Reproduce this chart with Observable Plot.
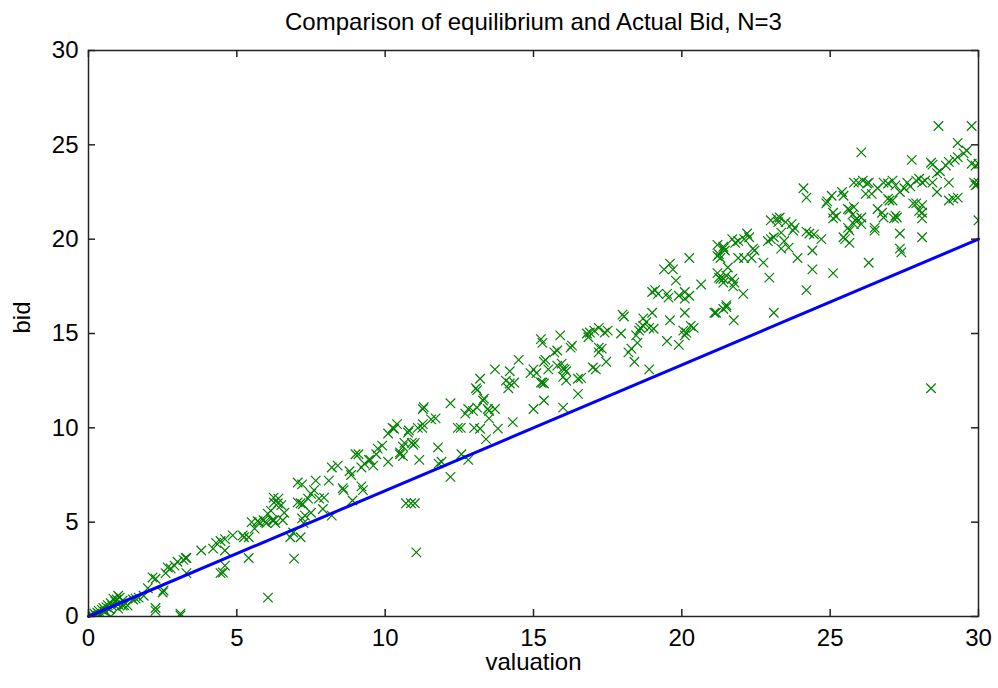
<!DOCTYPE html>
<html>
<head>
<meta charset="utf-8">
<script src="https://cdn.jsdelivr.net/npm/d3@7"></script>
<script src="https://cdn.jsdelivr.net/npm/@observablehq/plot@0.6"></script>
<style>
  html, body { margin: 0; padding: 0; background: #fff; }
  #chart svg { display: block; }
</style>
</head>
<body>
<div id="chart"></div>
<script>
const titleText = "Comparison of equilibrium and Actual Bid, N=3";
const xLabel = "valuation";
const yLabel = "bid";
const xTicks = [0, 5, 10, 15, 20, 25, 30];
const yTicks = [0, 5, 10, 15, 20, 25, 30];

// equilibrium bid line (valuation, bid)
const eqValuation = [0, 30];
const eqBid = [0, 20];

// actual bids: [valuation, bid]
const bidsLow = [[0.05,0.05],[0.1,0.1],[0.15,0.0],[0.2,0.15],[0.25,0.05],[0.3,0.2],[0.35,0.3],[0.4,0.1],[0.45,0.35],[0.5,0.45],[0.55,0.25],[0.6,0.5],[0.65,0.6],[0.7,0.4],[0.75,0.7],[0.8,0.55],[0.9,0.8],[0.95,0.9],[1.0,0.65],[1.05,1.0],[1.15,0.85],[1.2,0.6],[0.3,0.0],[0.75,0.0],[1.0,1.1],[1.32,0.58],[1.15,0.58],[1.0,0.42],[0.84,0.95],[1.5,0.9],[1.59,0.95],[1.69,1.0],[1.86,1.1],[2.0,1.5],[2.53,1.38],[2.5,1.27],[2.26,0.45],[2.26,0.3],[3.1,0.05],[3.1,0.15],[2.16,2.07],[2.26,2.0],[2.6,2.3],[2.67,2.6],[2.77,2.55],[2.9,2.7],[3.0,2.9],[3.2,3.0],[3.3,3.1],[3.28,3.1],[3.3,2.3],[3.8,3.5],[4.2,3.6],[4.3,3.9],[4.45,4.0],[4.6,4.1],[4.6,3.5],[4.6,2.7],[4.45,2.3],[4.53,2.33],[5.2,4.3],[5.4,4.2],[5.24,4.2],[4.86,4.3],[5.4,3.1],[5.5,5.0],[5.6,4.66],[5.7,5.05],[5.75,5.0],[5.9,5.1],[5.95,5.0],[6.0,4.95],[6.04,5.45],[6.2,5.1],[6.25,5.1],[6.3,4.95],[6.24,6.3],[6.38,6.0],[6.05,1.0],[6.15,5.6],[6.25,6.04],[6.4,6.25]];

const bidsMid = [[6.5,5.9],[6.6,5.5],[6.55,5.1],[6.9,4.45],[6.8,4.2],[7.15,4.2],[7.25,4.95],[6.93,3.07],[7.05,7.1],[7.2,7.0],[7.05,6.05],[7.15,6.0],[7.22,5.95],[7.4,6.25],[7.5,5.5],[7.3,5.35],[7.2,5.2],[7.5,6.5],[7.6,6.7],[7.66,7.2],[7.77,6.25],[7.94,6.3],[7.9,5.7],[8.1,7.2],[8.2,7.9],[8.4,8.0],[8.2,5.35],[8.57,6.8],[8.6,6.7],[8.8,7.7],[8.85,7.5],[8.9,6.15],[9.0,8.6],[9.1,8.6],[9.2,7.9],[9.3,8.1],[9.45,8.3],[9.5,8.3],[9.6,8.0],[9.7,8.6],[9.2,6.9],[9.25,6.7],[9.75,8.9],[9.9,9.06],[10.1,9.7],[10.1,8.2],[10.25,10.0],[10.3,9.95],[10.4,10.2],[10.5,8.7],[10.5,8.6],[10.6,9.0],[10.6,8.5],[10.65,9.2],[10.77,9.75],[10.8,9.86],[10.9,9.2],[10.95,9.1],[11.0,9.2],[10.7,6.0],[10.87,6.0],[11.0,6.0],[11.05,3.4],[11.1,10.0],[11.25,10.0],[11.27,10.2],[11.27,11.0],[11.3,11.1],[11.15,8.3],[11.55,10.45],[11.7,10.5],[11.78,8.96],[11.8,8.1],[11.9,8.2],[12.2,11.3],[12.2,7.4],[12.45,10.0],[12.55,10.0],[12.57,8.6],[12.7,10.75],[12.8,11.0],[12.8,8.3],[12.96,10.9],[13.0,10.0]];

const bidsHighMid = [[13.06,12.1],[13.1,12.0],[13.1,11.07],[13.2,12.6],[13.2,9.95],[13.3,11.45],[13.33,11.55],[13.4,9.4],[13.46,11.0],[13.5,10.9],[13.5,10.5],[13.7,11.0],[13.7,13.1],[13.8,9.96],[14.07,12.5],[14.15,12.1],[14.2,12.35],[14.2,13.0],[14.3,10.3],[14.35,12.4],[14.5,13.6],[14.9,12.9],[15.0,13.1],[15.0,11.0],[15.1,12.9],[15.25,12.4],[15.25,14.7],[15.3,14.5],[15.3,12.4],[15.35,13.5],[15.35,12.35],[15.35,11.45],[15.4,13.6],[15.5,13.1],[15.7,14.0],[15.8,14.1],[15.8,13.3],[15.9,14.9],[15.95,13.4],[16.0,13.15],[16.0,12.7],[16.0,11.07],[16.05,13.1],[16.1,13.0],[16.1,12.5],[16.25,14.25],[16.3,14.36],[16.5,12.6],[16.5,11.8],[16.6,12.65],[16.8,15.0],[16.85,14.8],[16.9,15.05],[17.0,13.2],[17.05,15.15],[17.1,13.1],[17.2,15.3],[17.2,14.25],[17.2,14.0],[17.3,14.2],[17.4,15.05],[17.45,13.5],[17.5,15.15],[17.95,15.0],[18.0,16.0],[18.05,15.9],[18.2,14.0],[18.3,14.2],[18.4,13.5],[18.46,14.9],[18.5,14.5],[18.56,15.15],[18.6,15.3],[18.7,15.4],[18.7,15.8],[18.8,15.6],[18.9,15.3],[18.9,13.1],[19.0,17.2],[19.0,16.1],[19.05,15.25],[19.1,17.3],[19.2,17.1],[19.4,18.4],[19.5,17.1],[19.5,14.6],[19.55,16.9],[19.6,18.7],[19.6,15.7],[19.7,18.4],[19.8,17.8],[19.9,17.0],[19.9,14.4]];

const bidsHigh = [[20.05,15.15],[20.1,17.2],[20.1,16.85],[20.1,16.1],[20.1,14.9],[20.15,15.05],[20.25,19.0],[20.25,17.0],[20.3,15.4],[20.4,15.3],[20.65,17.6],[21.15,16.1],[21.1,16.1],[21.2,19.7],[21.2,19.1],[21.2,18.2],[21.25,19.2],[21.25,17.96],[21.3,19.0],[21.3,17.9],[21.4,19.5],[21.4,19.6],[21.45,19.4],[21.4,17.9],[21.4,17.7],[21.4,16.3],[21.5,16.4],[21.5,16.5],[21.55,18.5],[21.5,18.07],[21.7,20.0],[21.7,17.9],[21.73,17.5],[21.75,15.7],[21.77,17.7],[21.8,19.8],[21.9,19.9],[21.9,19.0],[22.07,17.1],[22.1,20.0],[22.1,19.0],[22.2,20.3],[22.27,20.1],[22.35,19.0],[22.4,19.5],[22.45,19.4],[22.75,18.76],[22.9,19.9],[22.95,17.96],[23.0,21.0],[23.0,20.0],[23.1,20.1],[23.1,16.1],[23.2,21.1],[23.25,20.9],[23.3,21.15],[23.35,20.35],[23.35,19.5],[23.45,19.9],[23.5,20.9],[23.6,19.55],[23.7,20.8],[23.75,20.45],[23.8,20.6],[23.9,19.0],[24.1,22.7],[24.2,22.2],[24.2,20.4],[24.2,17.3],[24.3,20.3],[24.4,19.4],[24.4,18.4],[24.45,20.25],[24.7,20.0],[24.87,21.9],[24.9,22.0],[25.05,22.3],[25.1,21.4],[25.1,21.1],[25.1,18.2],[25.2,21.2],[25.4,22.5],[25.45,22.3],[25.45,20.1],[25.5,20.0],[25.6,21.6],[25.6,20.6],[25.65,20.45],[25.65,21.55],[25.65,19.8],[25.75,21.3],[25.8,21.7],[25.8,20.8],[25.8,23.0],[25.85,21.0],[25.9,21.1],[25.95,23.0],[26.05,24.6],[26.05,21.15],[26.05,20.8],[26.1,23.1],[26.2,22.4],[26.25,22.95],[26.3,23.0],[26.3,18.75],[26.4,22.4],[26.5,20.6],[26.5,20.45],[26.6,22.7],[26.6,21.6],[26.75,21.4],[26.8,23.0],[26.8,21.15],[26.95,22.95],[26.95,22.15],[27.0,22.05],[27.1,23.1],[27.1,22.05],[27.15,21.1],[27.2,22.85],[27.2,21.25],[27.25,21.15],[27.35,22.5],[27.35,20.3],[27.35,19.5],[27.4,19.3],[27.5,22.7],[27.6,23.0],[27.7,22.8],[27.75,24.2],[27.8,21.9],[27.9,23.1],[27.9,21.9],[28.0,23.2],[28.0,21.5],[28.1,23.0],[28.1,21.8],[28.1,21.4],[28.1,21.1],[28.1,20.1],[28.2,23.1],[28.4,24.05],[28.4,12.1],[28.45,23.95],[28.45,23.0],[28.6,23.5],[28.6,22.5],[28.65,26.0],[28.7,23.6],[28.9,23.9],[29.0,24.1],[29.0,23.0],[29.0,22.05],[29.15,22.15],[29.2,24.2],[29.3,24.35],[29.3,25.1],[29.3,22.2],[29.5,24.55],[29.6,24.7],[29.77,26.0],[29.77,24.0],[29.85,23.0],[29.9,23.9],[29.9,22.85],[29.95,22.9],[30.0,24.0],[30.0,23.0],[30.0,21.0]];

const bids = [...bidsLow, ...bidsMid, ...bidsHighMid, ...bidsHigh]
  .map(([v, b]) => ({valuation: v, bid: b}));
const eq = eqValuation.map((v, i) => ({valuation: v, bid: eqBid[i]}));

const W = 998, H = 688;
const mL = 88, mR = 20, mT = 50, mB = 72;
const plotW = W - mL - mR, plotH = H - mT - mB;
const tickLen = 7;
const font = "'Liberation Sans', Arial, Helvetica, sans-serif";

const chart = Plot.plot({
  width: W, height: H,
  marginLeft: mL, marginRight: mR, marginTop: mT, marginBottom: mB,
  style: {fontFamily: font, fontSize: "24px", background: "#fff", color: "#000"},
  x: {domain: [0, 30], label: null},
  y: {domain: [0, 30], label: null},
  marks: [
    Plot.dot(bids, {x: "valuation", y: "bid", symbol: "times", r: 4.4, stroke: "#008000", strokeWidth: 1.2, clip: true}),
    Plot.line(eq, {x: "valuation", y: "bid", stroke: "#0000ff", strokeWidth: 3}),
    // inward ticks on all four sides
    Plot.tickX(xTicks, {x: d => d, insetTop: plotH - tickLen, stroke: "#222", strokeWidth: 1.5}),
    Plot.tickX(xTicks, {x: d => d, insetBottom: plotH - tickLen, stroke: "#222", strokeWidth: 1.5}),
    Plot.tickY(yTicks, {y: d => d, insetRight: plotW - tickLen, stroke: "#222", strokeWidth: 1.5}),
    Plot.tickY(yTicks, {y: d => d, insetLeft: plotW - tickLen, stroke: "#222", strokeWidth: 1.5}),
    Plot.frame({stroke: "#222", strokeWidth: 1.5}),
    Plot.axisX(xTicks, {tickSize: 0, tickPadding: 12, fontSize: 24, label: null}),
    Plot.axisY(yTicks, {tickSize: 0, tickPadding: 10, fontSize: 24, label: null}),
    Plot.text([titleText], {text: d => d, frameAnchor: "top", lineAnchor: "middle", dy: -28, fontSize: 24}),
    Plot.text([xLabel], {text: d => d, frameAnchor: "bottom", lineAnchor: "middle", dy: 46, fontSize: 24}),
    Plot.text([yLabel], {text: d => d, frameAnchor: "left", lineAnchor: "middle", dx: -66, rotate: -90, fontSize: 24})
  ]
});
document.getElementById("chart").appendChild(chart);
</script>
</body>
</html>
